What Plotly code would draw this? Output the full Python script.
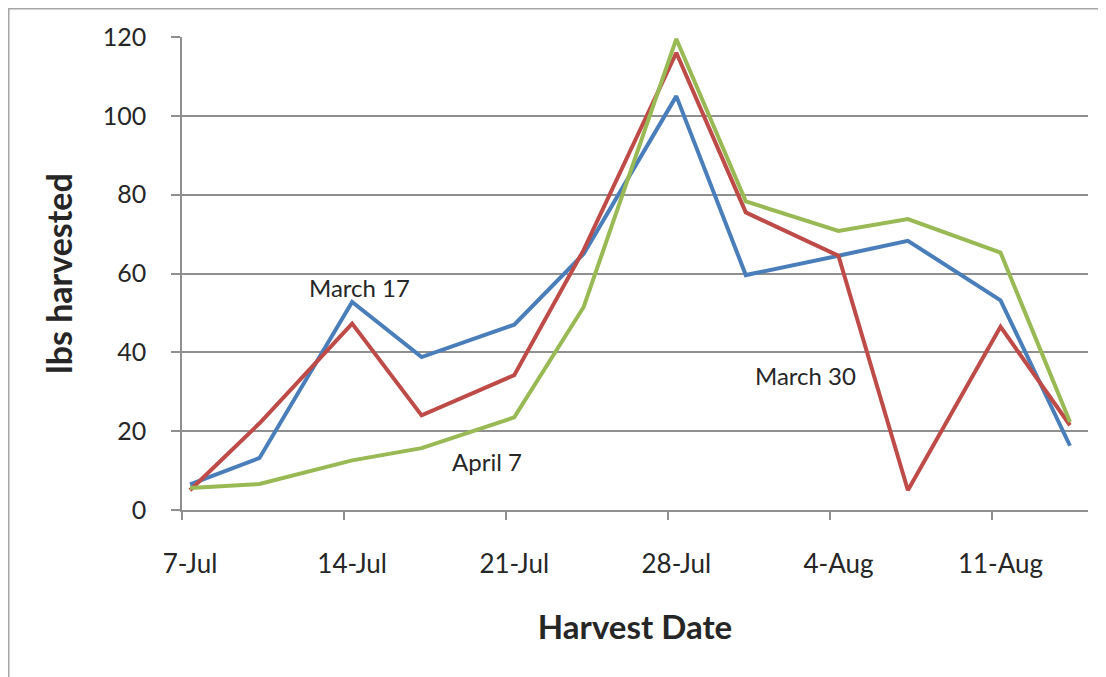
import plotly.graph_objects as go

harvest_dates = ["2010-07-07", "2010-07-10", "2010-07-14", "2010-07-17", "2010-07-21", "2010-07-24",
                 "2010-07-28", "2010-07-31", "2010-08-04", "2010-08-07", "2010-08-11", "2010-08-14"]
march17 = [6.5, 13.2, 52.8, 38.8, 47.0, 65.0, 105.0, 59.6, 64.5, 68.3, 53.2, 16.3]
march30 = [5.0, 22.0, 47.3, 24.0, 34.2, 66.0, 116.0, 75.5, 64.5, 5.0, 46.5, 21.5]
april7 = [5.6, 6.6, 12.6, 15.7, 23.5, 51.5, 119.5, 78.3, 70.8, 73.8, 65.3, 22.3]

tick_dates = ["2010-07-07", "2010-07-14", "2010-07-21", "2010-07-28", "2010-08-04", "2010-08-11"]
tick_labels = ["7-Jul", "14-Jul", "21-Jul", "28-Jul", "4-Aug", "11-Aug"]
y_ticks = [0, 20, 40, 60, 80, 100, 120]

series = [("March 17", march17, "#4a7ebb"),
          ("March 30", march30, "#be4b48"),
          ("April 7", april7, "#98b954")]

FONT = "Lato"
TXT = "#262626"
GRID = "#8f8f8f"

fig = go.Figure()
for name, vals, col in series:
    fig.add_trace(go.Scatter(x=harvest_dates, y=vals, mode="lines", name=name,
                             line=dict(color=col, width=4), showlegend=False))

labels = [("March 17", "2010-07-14 08:00", 56.5),
          ("April 7", "2010-07-19 19:30", 12.2),
          ("March 30", "2010-08-02 14:00", 34.0)]
for txt, lx, ly in labels:
    fig.add_annotation(x=lx, y=ly, text=txt, showarrow=False,
                       font=dict(family=FONT, size=24, color=TXT))

fig.update_layout(
    width=1106, height=677,
    margin=dict(l=174, r=26, t=29, b=175),
    paper_bgcolor="white", plot_bgcolor="white",
    font=dict(family=FONT, color=TXT),
    xaxis=dict(
        type="date",
        range=["2010-07-06 15:40", "2010-08-14 18:40"],
        tickmode="array", tickvals=tick_dates, ticktext=tick_labels,
        ticks="", showgrid=False,
        showline=True, linecolor=GRID, linewidth=1.5,
        tickfont=dict(family=FONT, size=26, color=TXT),
        ticklabelstandoff=30,
        minor=dict(ticks="outside", ticklen=8, tickcolor=GRID, tickwidth=1.5,
                   tick0="2010-07-06 15:40", dtick=7 * 86400000, showgrid=False),
        title=dict(text="<b>Harvest Date</b>", font=dict(family=FONT, size=33, color=TXT), standoff=38),
        zeroline=False,
    ),
    yaxis=dict(
        range=[0, 120], tickmode="array", tickvals=y_ticks,
        ticks="outside", ticklen=9, tickcolor=GRID, tickwidth=1.5,
        showgrid=True, gridcolor=GRID, gridwidth=1.5,
        showline=True, linecolor=GRID, linewidth=1.5,
        tickfont=dict(family=FONT, size=25, color=TXT),
        ticklabelstandoff=20,
        title=dict(text="<b>lbs harvested</b>", font=dict(family=FONT, size=34, color=TXT), standoff=20),
        zeroline=False,
    ),
)

fig.add_shape(type="rect", xref="paper", yref="paper",
              x0=(0.75 - 174) / 906, x1=1.2, y0=-0.6, y1=(502 - 0.75) / 473,
              line=dict(color="#a6a6a6", width=1.5), fillcolor="rgba(0,0,0,0)", layer="below")

fig.write_html("out.html")
